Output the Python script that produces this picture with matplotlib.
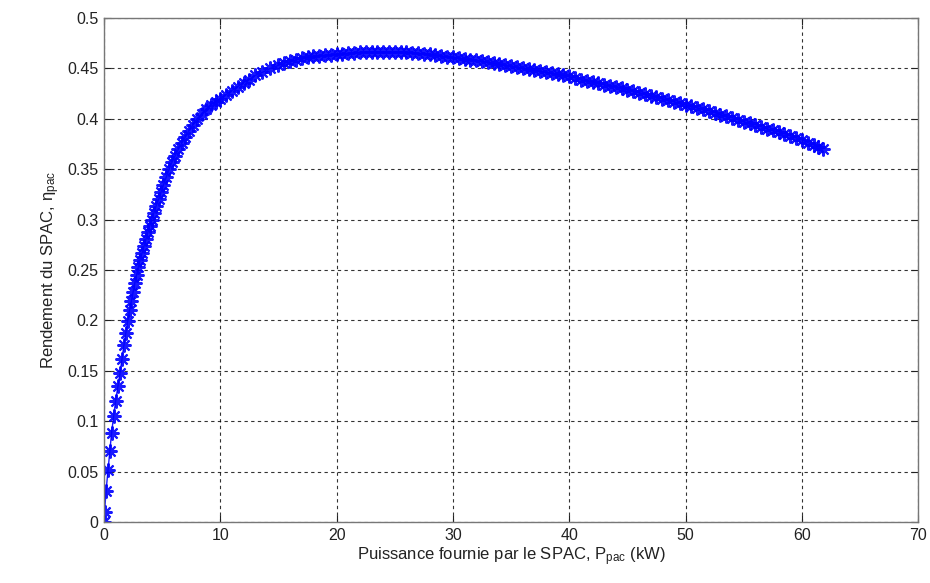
import matplotlib.pyplot as plt

# puissance fournie (kW) et rendement
p_kw = [0, 0.05, 0.18, 0.35, 0.5, 0.65, 0.83, 1.0, 1.2, 1.38, 1.55, 1.72, 1.88, 2.03,
        2.2, 2.35, 2.5, 2.65, 2.8, 2.95, 3.1, 3.28, 3.45, 3.62, 3.8, 3.95, 4.1, 4.3,
        4.5, 4.7, 4.9, 5.1, 5.35, 5.6, 5.85, 6.1, 6.4, 6.7, 7.0, 7.3, 7.65, 8.0, 8.4,
        8.8, 9.2, 9.6, 10.0, 10.5, 11.0, 11.5, 12.0, 12.5, 13.0, 13.6, 14.3,
        15.0, 15.5, 16.0, 16.5, 17.0, 17.5, 18.0, 18.5, 19.0, 19.5, 20.0, 20.5, 21.0,
        21.5, 22.0, 22.5, 23.0, 23.5, 24.0, 24.5, 25.0, 25.5, 26.0, 26.5, 27.0, 27.5,
        28.0, 28.5, 29.0, 29.5, 30.0, 30.5, 31.0, 31.5, 32.0, 32.5, 33.0, 33.5, 34.0,
        34.5, 35.0, 35.5, 36.0, 36.5, 37.0, 37.5, 38.0, 38.5, 39.0, 39.5, 40.0, 40.5,
        41.0, 41.5, 42.0, 42.5, 43.0, 43.5, 44.0, 44.5, 45.0, 45.5, 46.0, 46.5, 47.0,
        47.5, 48.0, 48.5, 49.0, 49.5, 50.0, 50.5, 51.0, 51.5, 52.0, 52.5, 53.0, 53.5,
        54.0, 54.5, 55.0, 55.5, 56.0, 56.5, 57.0, 57.5, 58.0, 58.5, 59.0, 59.5, 60.0,
        60.5, 61.0, 61.4, 61.8]
rendement = [0, 0.01, 0.031, 0.052, 0.07, 0.088, 0.105, 0.12, 0.135, 0.148, 0.162, 0.176,
             0.188, 0.199, 0.21, 0.219, 0.228, 0.237, 0.245, 0.253, 0.26, 0.267, 0.274,
             0.281, 0.288, 0.294, 0.30, 0.307, 0.314, 0.320, 0.327, 0.334, 0.342, 0.35,
             0.357, 0.363, 0.37, 0.376, 0.382, 0.388, 0.394, 0.40, 0.405, 0.41, 0.414,
             0.417, 0.42, 0.424, 0.428, 0.432, 0.436, 0.439, 0.443, 0.446, 0.45,
             0.453, 0.455, 0.457, 0.4585, 0.46, 0.461, 0.462, 0.4625, 0.463, 0.4635,
             0.464, 0.4645, 0.465, 0.4655, 0.466, 0.466, 0.466, 0.466, 0.466, 0.466,
             0.466, 0.466, 0.466, 0.4655, 0.465, 0.4645, 0.464, 0.463, 0.462, 0.4615,
             0.461, 0.46, 0.459, 0.4585, 0.458, 0.457, 0.456, 0.455, 0.454, 0.453,
             0.452, 0.451, 0.45, 0.449, 0.448, 0.447, 0.446, 0.445, 0.444, 0.443,
             0.442, 0.4405, 0.439, 0.438, 0.437, 0.4355, 0.434, 0.433, 0.432, 0.4305,
             0.429, 0.4275, 0.426, 0.4245, 0.423, 0.4215, 0.42, 0.4185, 0.417, 0.4155,
             0.414, 0.4125, 0.411, 0.4095, 0.408, 0.406, 0.404, 0.4025, 0.401, 0.399,
             0.397, 0.3955, 0.394, 0.392, 0.39, 0.3885, 0.387, 0.385, 0.383, 0.381,
             0.379, 0.3765, 0.374, 0.372, 0.37]

xticks = [0, 10, 20, 30, 40, 50, 60, 70]
yticks = [0, 0.05, 0.1, 0.15, 0.2, 0.25, 0.3, 0.35, 0.4, 0.45, 0.5]
ylabels = ['0', '0.05', '0.1', '0.15', '0.2', '0.25', '0.3', '0.35', '0.4', '0.45', '0.5']

plt.rcParams['font.family'] = ['Liberation Sans', 'DejaVu Sans']

fig = plt.figure(figsize=(9.3, 5.83), dpi=100)
ax = fig.add_axes([0.1118, 0.1046, 0.8755, 0.8645])

# asterisque facon matlab (8 branches)
ax.plot(p_kw, rendement, '-', marker=(8, 2, 0), color='b', markersize=10,
        markeredgewidth=1.5, linewidth=1, alpha=0.9)

ax.set_xlim(0, 70)
ax.set_ylim(0, 0.5)
ax.set_xticks(xticks)
ax.set_yticks(yticks)
ax.set_yticklabels(ylabels)
ax.tick_params(direction='in', top=True, right=True, labelsize=11.5, length=5,
               colors='#222222', pad=4)
ax.grid(True, color='k', linestyle=(0, (3, 3)), linewidth=0.8, alpha=0.8)
for s in ax.spines.values():
    s.set_color('#777777')
    s.set_linewidth(1)

ax.set_xlabel(r'Puissance fournie par le SPAC, $\mathregular{P_{pac}}$ (kW)',
              fontsize=12, color='#222222', labelpad=2)
ax.set_ylabel(r'Rendement du SPAC, $\mathregular{\eta_{pac}}$',
              fontsize=12, color='#222222', labelpad=4)

fig.savefig('out.png', dpi=100)
